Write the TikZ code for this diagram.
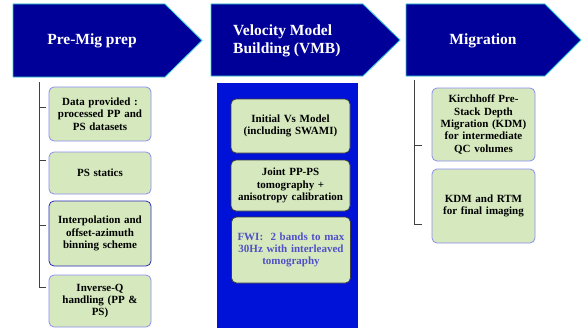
\documentclass[tikz,border=0pt]{standalone}
\usepackage{fontspec}
\setmainfont{Liberation Serif}
\definecolor{navy}{RGB}{0,0,153}
\definecolor{chevedge}{RGB}{51,204,204}
\definecolor{vmbblue}{RGB}{0,18,216}
\definecolor{boxgreen}{RGB}{214,233,190}
\definecolor{lightedge}{RGB}{140,140,240}
\definecolor{darkedge}{RGB}{40,40,180}
\definecolor{grayedge}{RGB}{60,60,60}
\definecolor{fwitext}{RGB}{80,80,200}
\begin{document}
\begin{tikzpicture}[x=1pt,y=-1pt,
  chev/.style={fill=navy,draw=chevedge,line width=0.8pt},
  headtext/.style={text=white,font=\fontsize{15.5}{18}\selectfont\bfseries,inner sep=0pt},
  greenbox/.style={fill=boxgreen,rounded corners=5pt,line width=0.8pt,align=center,
    font=\fontsize{11}{12.3}\selectfont\bfseries,inner sep=1pt},
  bracket/.style={draw=black!75,line width=0.8pt}]
\useasboundingbox (0,0) rectangle (583,329);
% chevrons
\draw[chev] (13,4) -- (165,4) -- (202,40.5) -- (165,77) -- (13,77) -- cycle;
\draw[chev] (211,4) -- (363,4) -- (400,40) -- (363,76) -- (211,76) -- cycle;
\draw[chev] (406,4) -- (545,4) -- (581,40) -- (545,76) -- (406,76) -- cycle;
\node[headtext] (h1) at (92,41) {Pre-Mig prep};
\node[headtext,anchor=west,align=left] (h2) at (233,41) {Velocity Model\\Building (VMB)};
\node[headtext] (h3) at (483,41) {Migration};
% column 2 background
\fill[vmbblue] (217,83) rectangle (358,328);
% column 1 boxes
\node[greenbox,draw=lightedge,minimum width=102pt,minimum height=54pt,text width=96pt] (a1) at (100,114) {Data provided :\\processed PP and\\PS datasets};
\node[greenbox,draw=lightedge,minimum width=102pt,minimum height=42pt,text width=96pt] (a2) at (100,173) {PS statics};
\node[greenbox,draw=darkedge,minimum width=102pt,minimum height=65pt,text width=96pt] (a3) at (100,233.5) {Interpolation and\\offset-azimuth\\binning scheme};
\node[greenbox,draw=lightedge,minimum width=102pt,minimum height=52pt,text width=96pt] (a4) at (100,301) {Inverse-Q\\handling (PP \&\\PS)};
% column 2 boxes
\node[greenbox,draw=grayedge,minimum width=119pt,minimum height=54pt,text width=114pt] (b1) at (290.5,126) {Initial Vs Model\\(including SWAMI)};
\node[greenbox,draw=grayedge,minimum width=119pt,minimum height=51pt,text width=114pt] (b2) at (290.5,185.5) {Joint PP-PS\\tomography +\\anisotropy calibration};
\node[greenbox,draw=grayedge,minimum width=119pt,minimum height=66pt,text width=114pt,text=fwitext] (b3) at (291,250) {FWI:\ \ 2 bands to max\\30Hz with interleaved\\tomography};
% column 3 boxes
\node[greenbox,draw=lightedge,minimum width=103pt,minimum height=73pt,text width=98pt] (c1) at (483.5,124.5) {Kirchhoff Pre-\\Stack Depth\\Migration (KDM)\\for intermediate\\QC volumes};
\node[greenbox,draw=lightedge,minimum width=103pt,minimum height=74pt,text width=98pt] (c2) at (483.5,206) {KDM and RTM\\for final imaging};
% brackets column 1
\coordinate (p0) at (39,82);
\coordinate (p1) at (39,107); \coordinate (q1) at (46,107);
\coordinate (p2) at (39,160); \coordinate (q2) at (46,160);
\coordinate (p3) at (39,225); \coordinate (q3) at (46,225);
\coordinate (p4) at (39,287); \coordinate (q4) at (46,287);
\draw[bracket] (p0) -- (p4) -- (q4);
\draw[bracket] (p1) -- (q1);
\draw[bracket] (p2) -- (q2);
\draw[bracket] (p3) -- (q3);
% brackets column 3
\coordinate (r0) at (414,80);
\coordinate (r1) at (414,145); \coordinate (s1) at (422,145);
\coordinate (r2) at (414,224); \coordinate (s2) at (422,224);
\draw[bracket] (r0) -- (r2) -- (s2);
\draw[bracket] (r1) -- (s1);
\end{tikzpicture}
\end{document}
